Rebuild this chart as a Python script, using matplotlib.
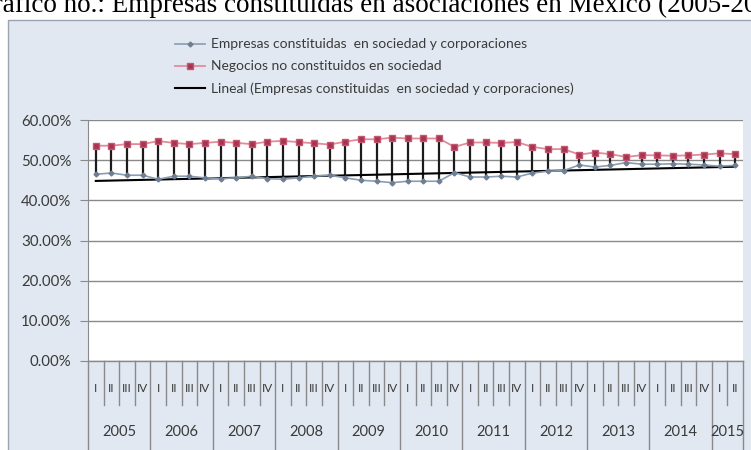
import numpy as np
import matplotlib
matplotlib.use("Agg")
import matplotlib.pyplot as plt
from matplotlib.patches import Rectangle
from matplotlib.lines import Line2D

# ---------------- data ----------------
years = ["2005", "2006", "2007", "2008", "2009", "2010", "2011", "2012", "2013", "2014", "2015"]
quarters = ["I", "II", "III", "IV"]
quarters_per_year = [4, 4, 4, 4, 4, 4, 4, 4, 4, 4, 2]

empresas = [46.5, 46.8, 46.25, 46.25, 45.25, 46.0, 46.0, 45.6, 45.4, 45.6, 46.0, 45.4,
            45.25, 45.6, 46.0, 46.25, 45.6, 45.0, 44.75, 44.4, 44.75, 44.75, 44.75, 46.9,
            45.8, 45.8, 46.0, 45.8, 46.8, 47.25, 47.4, 48.8, 48.3, 48.7, 49.4, 49.0,
            49.0, 49.1, 49.0, 48.8, 48.5, 48.7]
negocios = [53.6, 53.6, 54.0, 54.0, 54.75, 54.3, 54.0, 54.3, 54.6, 54.3, 54.0, 54.6,
            54.8, 54.5, 54.2, 53.9, 54.6, 55.2, 55.2, 55.6, 55.4, 55.4, 55.4, 53.3,
            54.4, 54.4, 54.3, 54.5, 53.3, 52.75, 52.75, 51.4, 51.9, 51.5, 50.8, 51.25,
            51.2, 51.1, 51.2, 51.4, 51.7, 51.5]

label_emp = "Empresas constituidas  en sociedad y corporaciones"
label_neg = "Negocios no constituidos en sociedad"
label_lin = "Lineal (Empresas constituidas  en sociedad y corporaciones)"
title = "Gráfico no.: Empresas constituidas en asociaciones en México (2005-2015)"

W, H = 751, 450
fig = plt.figure(figsize=(W / 100, H / 100), dpi=100)
fig.patch.set_facecolor("white")

def fx(px):
    return px / W

def fy(py):
    return 1 - py / H

# chart area background
bg = Rectangle((fx(8), -0.05), 1.1, fy(20) + 0.05, transform=fig.transFigure,
               facecolor="#e1e8f1", edgecolor="#9aa4b0", linewidth=1.0, zorder=0)
fig.add_artist(bg)

left_px, right_px, top_px, bot_px = 88, 743, 120, 361
ax = fig.add_axes([fx(left_px), fy(bot_px), (right_px - left_px) / W, (bot_px - top_px) / H])
ax.set_facecolor("white")

n = len(empresas)
x = np.arange(n)
emp = np.array(empresas)
neg = np.array(negocios)

ax.set_xlim(-0.5, n - 0.5)
ax.set_ylim(0, 60)

for v in range(0, 61, 10):
    ax.axhline(v, color="#8a8a8a", lw=1.0, zorder=1)

ax.vlines(x, emp, neg, color="#1c1c1c", lw=1.6, zorder=3)
coef = np.polyfit(x, emp, 1)
trend = np.polyval(coef, x)
ax.plot(x, trend, color="black", lw=1.5, zorder=4)
ax.plot(x, emp, color="#8a9db3", lw=1.2, marker="D", ms=2.5, mfc="#6f7f93", mec="#6f7f93", zorder=5)
ax.plot(x, neg, color="#e48a9b", lw=1.3, marker="s", ms=4.5, mfc="#a8344f", mec="#c25872", zorder=6)

ax.set_yticks(range(0, 61, 10))
ax.set_yticklabels([f"{v:.2f}%" for v in range(0, 61, 10)], fontsize=10.8,
                   color="#3a3a3a", fontfamily="Lato")
ax.tick_params(axis="y", length=6, color="#8a8a8a", pad=6)
ax.set_xticks([])
for s in ["top", "right", "bottom"]:
    ax.spines[s].set_visible(False)
ax.spines["left"].set_color("#8a8a8a")

# multi-level category axis
tr = ax.get_xaxis_transform()
ph = bot_px - top_px
q_bottom = -(405 - bot_px) / ph
y_bottom = -(H + 5 - bot_px) / ph
q_label_y = -(389 - bot_px) / ph
y_label_y = -(432 - bot_px) / ph
ax.plot([-0.5, n - 0.5], [0, 0], transform=tr, color="#8a8a8a", lw=1.0, clip_on=False, zorder=2)
idx = 0
for yr, nq in zip(years, quarters_per_year):
    ax.plot([idx - 0.5, idx - 0.5], [0, y_bottom], transform=tr, color="#8a8a8a",
            lw=1.0, clip_on=False)
    for q in range(nq):
        ax.text(idx + q, q_label_y, quarters[q], transform=tr, ha="center", va="center",
                fontsize=8.5, color="#3a3a3a", fontfamily="Lato")
        if q > 0:
            ax.plot([idx + q - 0.5] * 2, [0, q_bottom], transform=tr, color="#8a8a8a",
                    lw=1.0, clip_on=False)
    ax.text(idx + (nq - 1) / 2, y_label_y, yr, transform=tr, ha="center", va="center",
            fontsize=10.5, color="#3a3a3a", fontfamily="Lato")
    idx += nq
ax.plot([n - 0.5, n - 0.5], [0, y_bottom], transform=tr, color="#8a8a8a", lw=1.0, clip_on=False)

# legend
handles = [
    Line2D([], [], color="#8a9db3", lw=1.2, marker="D", ms=2.5, mfc="#6f7f93", mec="#6f7f93"),
    Line2D([], [], color="#e48a9b", lw=1.3, marker="s", ms=4.5, mfc="#a8344f", mec="#c25872"),
    Line2D([], [], color="black", lw=1.5),
]
leg = fig.legend(handles, [label_emp, label_neg, label_lin], loc="upper left",
                 bbox_to_anchor=(fx(162), fy(26)), frameon=False, handlelength=2.2,
                 handletextpad=0.4, labelspacing=0.72,
                 prop={"family": "Lato", "size": 10})
for t in leg.get_texts():
    t.set_color("#3a3a3a")

# clipped title at top
fs_title = 19.5
fig.canvas.draw()
r = fig.canvas.get_renderer()
probe = fig.text(0, 0, "Gráfico no.: E", fontfamily="Liberation Serif", fontsize=fs_title)
probe2 = fig.text(0, 0, "E", fontfamily="Liberation Serif", fontsize=fs_title)
w_prefix = probe.get_window_extent(r).width - probe2.get_window_extent(r).width
probe.remove()
probe2.remove()
fig.text(fx(112 - w_prefix), fy(12), title, fontfamily="Liberation Serif", fontsize=fs_title,
         color="black", va="baseline", ha="left")

fig.savefig("out.png", dpi=100)
